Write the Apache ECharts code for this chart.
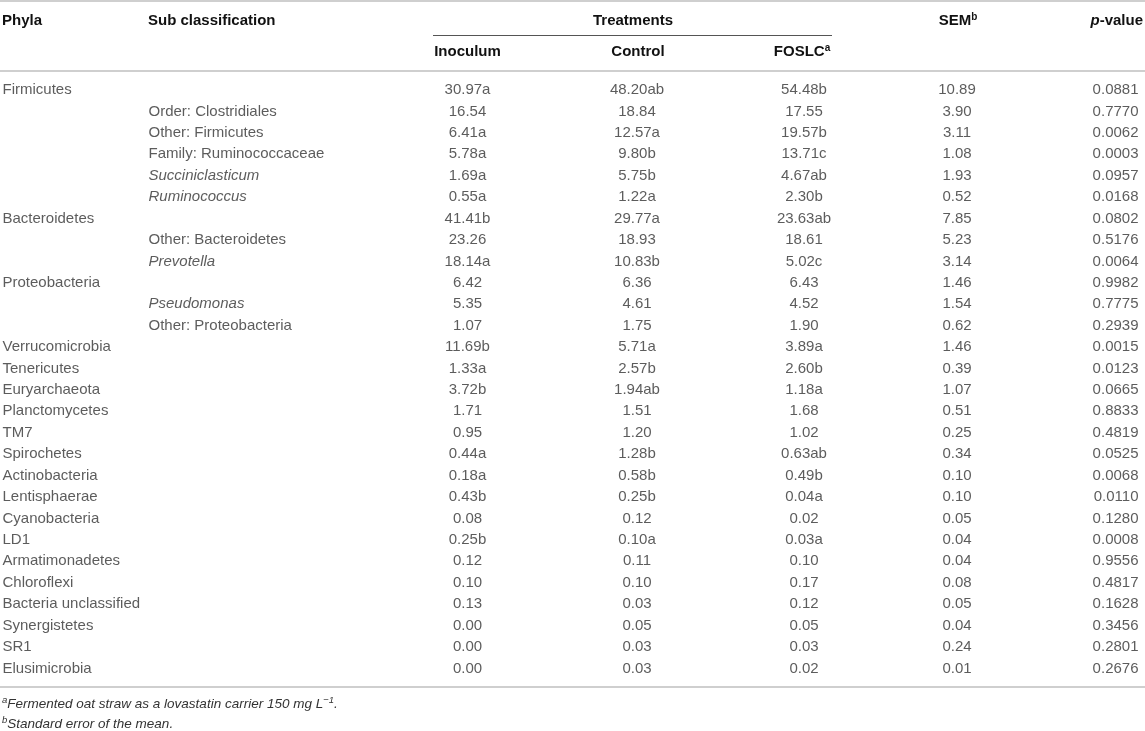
<!DOCTYPE html>
<html>
<head>
<meta charset="utf-8"/>
<title>Phyla relative abundance</title>
<script src="https://cdn.jsdelivr.net/npm/echarts@6/dist/echarts.min.js"></script>
<style>
    html, body { margin: 0; padding: 0; background: #fff; }
    #main { width: 1145px; height: 731px; }
</style>
</head>
<body>
<div id="main"></div>
<script>
    // table rows
    var phyla = ['Firmicutes', '', '', '', '', '', 'Bacteroidetes', '', '', 'Proteobacteria', '', '',
        'Verrucomicrobia', 'Tenericutes', 'Euryarchaeota', 'Planctomycetes', 'TM7', 'Spirochetes',
        'Actinobacteria', 'Lentisphaerae', 'Cyanobacteria', 'LD1', 'Armatimonadetes', 'Chloroflexi',
        'Bacteria unclassified', 'Synergistetes', 'SR1', 'Elusimicrobia'];
    var subClass = ['', 'Order: Clostridiales', 'Other: Firmicutes', 'Family: Ruminococcaceae',
        'Succiniclasticum', 'Ruminococcus', '', 'Other: Bacteroidetes', 'Prevotella', '',
        'Pseudomonas', 'Other: Proteobacteria', '', '', '', '', '', '', '', '', '', '', '', '', '', '', '', ''];
    var italicNames = ['Succiniclasticum', 'Ruminococcus', 'Prevotella', 'Pseudomonas'];

    var inoculum = ['30.97a', '16.54', '6.41a', '5.78a', '1.69a', '0.55a', '41.41b', '23.26', '18.14a',
        '6.42', '5.35', '1.07', '11.69b', '1.33a', '3.72b', '1.71', '0.95', '0.44a', '0.18a', '0.43b',
        '0.08', '0.25b', '0.12', '0.10', '0.13', '0.00', '0.00', '0.00'];
    var control = ['48.20ab', '18.84', '12.57a', '9.80b', '5.75b', '1.22a', '29.77a', '18.93', '10.83b',
        '6.36', '4.61', '1.75', '5.71a', '2.57b', '1.94ab', '1.51', '1.20', '1.28b', '0.58b', '0.25b',
        '0.12', '0.10a', '0.11', '0.10', '0.03', '0.05', '0.03', '0.03'];
    var foslc = ['54.48b', '17.55', '19.57b', '13.71c', '4.67ab', '2.30b', '23.63ab', '18.61', '5.02c',
        '6.43', '4.52', '1.90', '3.89a', '2.60b', '1.18a', '1.68', '1.02', '0.63ab', '0.49b', '0.04a',
        '0.02', '0.03a', '0.10', '0.17', '0.12', '0.05', '0.03', '0.02'];
    var sem = ['10.89', '3.90', '3.11', '1.08', '1.93', '0.52', '7.85', '5.23', '3.14', '1.46', '1.54',
        '0.62', '1.46', '0.39', '1.07', '0.51', '0.25', '0.34', '0.10', '0.10', '0.05', '0.04', '0.04',
        '0.08', '0.05', '0.04', '0.24', '0.01'];
    var pValue = ['0.0881', '0.7770', '0.0062', '0.0003', '0.0957', '0.0168', '0.0802', '0.5176', '0.0064',
        '0.9982', '0.7775', '0.2939', '0.0015', '0.0123', '0.0665', '0.8833', '0.4819', '0.0525', '0.0068',
        '0.0110', '0.1280', '0.0008', '0.9556', '0.4817', '0.1628', '0.3456', '0.2801', '0.2676'];

    var rowIdx = phyla.map(function (d, i) { return i; });

    var FONT = '"Liberation Sans", Arial, Helvetica, sans-serif';
    var TXT = '#333';
    var HEAD = '#111';

    // one text column = one scatter series with invisible symbols
    function column(name, list, x, pos) {
        var data = [];
        list.forEach(function (t, i) {
            if (t !== '') data.push([x, i, t]);
        });
        return {
            name: name,
            type: 'scatter',
            symbolSize: 1,
            itemStyle: {color: 'transparent'},
            silent: true,
            data: data,
            label: {
                show: true,
                position: pos,
                distance: 0,
                fontFamily: FONT,
                fontSize: 15,
                color: TXT,
                formatter: function (p) {
                    var t = p.value[2];
                    return italicNames.indexOf(t) >= 0 ? '{i|' + t + '}' : t;
                },
                rich: {
                    i: {fontFamily: FONT, fontSize: 15, color: TXT, fontStyle: 'italic'}
                }
            }
        };
    }

    function headText(x, y, text, align, rich) {
        return {
            type: 'text', x: x, y: y, z: 10,
            style: {
                text: text, fill: HEAD, textAlign: align || 'left', textVerticalAlign: 'middle',
                fontFamily: FONT, fontSize: 15, fontWeight: 'bold', rich: rich || {}
            }
        };
    }

    var supRich = {
        m: {fontFamily: FONT, fontSize: 15, fontWeight: 'bold', fill: HEAD, color: HEAD, lineHeight: 18},
        s: {fontFamily: FONT, fontSize: 10, fontWeight: 'bold', fill: HEAD, color: HEAD, verticalAlign: 'top', lineHeight: 18}
    };

    // footnote styles
    var noteRich = {
        t: {fontFamily: FONT, fontSize: 13.5, fontStyle: 'italic', fill: TXT, lineHeight: 17},
        s: {fontFamily: FONT, fontSize: 9.5, fontStyle: 'italic', fill: TXT, verticalAlign: 'top', lineHeight: 17}
    };

    var myChart = echarts.init(document.getElementById('main'));
    var option = {
        animation: false,
        grid: {left: 0, right: 0, top: 79.3, bottom: 51.9},
        xAxis: {type: 'value', min: 0, max: 1145, show: false},
        yAxis: {type: 'category', data: rowIdx, inverse: true, show: false},
        graphic: [
            // rules
            {type: 'line', shape: {x1: 0, y1: 1, x2: 1145, y2: 1}, style: {stroke: '#cfcfcf', lineWidth: 2}},
            {type: 'line', shape: {x1: 433, y1: 35.5, x2: 832, y2: 35.5}, style: {stroke: '#555', lineWidth: 1}},
            {type: 'line', shape: {x1: 0, y1: 71, x2: 1145, y2: 71}, style: {stroke: '#cfcfcf', lineWidth: 2}},
            {type: 'line', shape: {x1: 0, y1: 687, x2: 1145, y2: 687}, style: {stroke: '#cfcfcf', lineWidth: 2}},
            // headers
            headText(2, 21, 'Phyla'),
            headText(148, 21, 'Sub classification'),
            headText(633, 21, 'Treatments', 'center'),
            headText(467.5, 52, 'Inoculum', 'center'),
            headText(638, 52, 'Control', 'center'),
            headText(802, 52, '{m|FOSLC}{s|a}', 'center', supRich),
            headText(958, 21, '{m|SEM}{s|b}', 'center', supRich),
            {
                type: 'text', x: 1143, y: 21, z: 10,
                style: {
                    text: '{i|p}{m|-value}', textAlign: 'right', textVerticalAlign: 'middle',
                    fontFamily: FONT, fontSize: 15, fontWeight: 'bold', fill: HEAD,
                    rich: {
                        i: {fontFamily: FONT, fontSize: 15, fontWeight: 'bold', fontStyle: 'italic', fill: HEAD},
                        m: {fontFamily: FONT, fontSize: 15, fontWeight: 'bold', fill: HEAD}
                    }
                }
            },
            // footnotes
            {
                type: 'text', x: 2, y: 704, z: 10,
                style: {
                    text: '{s|a}{t|Fermented oat straw as a lovastatin carrier 150 mg L}{s|−1}{t|.}',
                    textVerticalAlign: 'middle',
                    rich: noteRich
                }
            },
            {
                type: 'text', x: 2, y: 724, z: 10,
                style: {
                    text: '{s|b}{t|Standard error of the mean.}',
                    textVerticalAlign: 'middle',
                    rich: noteRich
                }
            }
        ],
        series: [
            column('Phyla', phyla, 2, 'right'),
            column('Sub classification', subClass, 148, 'right'),
            column('Inoculum', inoculum, 467.5, 'inside'),
            column('Control', control, 637, 'inside'),
            column('FOSLC', foslc, 804, 'inside'),
            column('SEM', sem, 957, 'inside'),
            column('p-value', pValue, 1139, 'left')
        ]
    };
    myChart.setOption(option);

    window.onresize = function () {
        myChart.resize();
    };
</script>
</body>
</html>
